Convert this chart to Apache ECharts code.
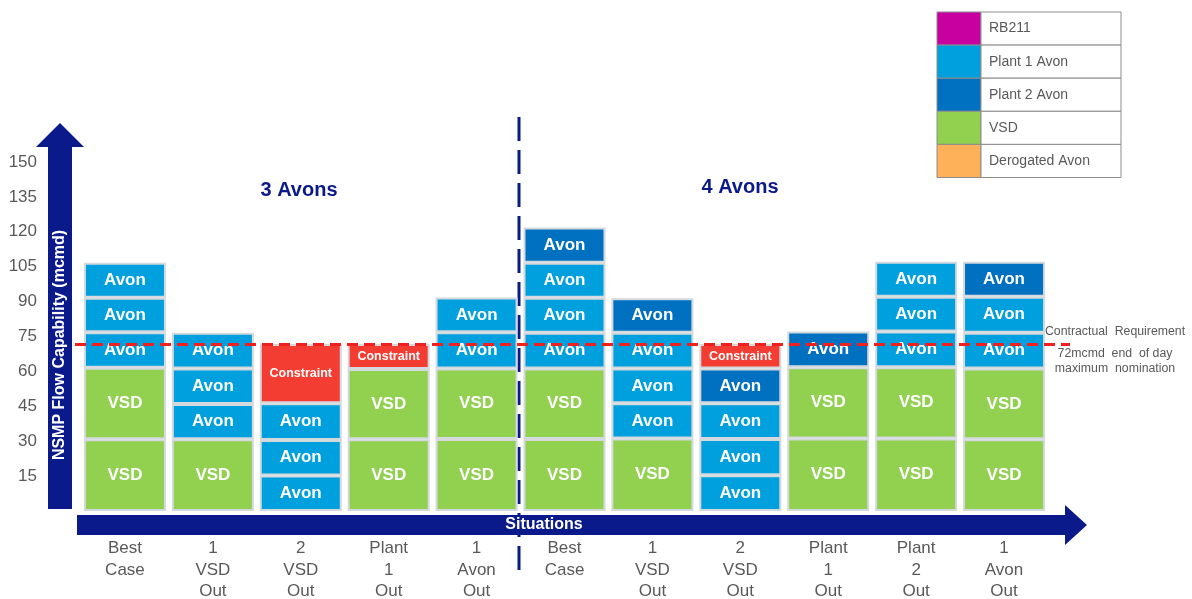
<!DOCTYPE html>
<html>
<head>
<meta charset="utf-8">
<script src="https://cdn.jsdelivr.net/npm/echarts@6/dist/echarts.min.js"></script>
<style>
html,body{margin:0;padding:0;background:#fff;}
#chart{width:1192px;height:599px;}
</style>
</head>
<body>
<div id="chart"></div>
<script>
// ---------- data ----------
const categories = ['Best\nCase','1\nVSD\nOut','2\nVSD\nOut','Plant\n1\nOut','1\nAvon\nOut',
                    'Best\nCase','1\nVSD\nOut','2\nVSD\nOut','Plant\n1\nOut','Plant\n2\nOut','1\nAvon\nOut'];
const yTicks = [15,30,45,60,75,90,105,120,135,150];
// stacked blocks, bottom (layer 1) to top (layer 6); types: V=VSD, P1=Plant 1 Avon, P2=Plant 2 Avon, C=Constraint
const layer1Values = [30.8, 30.8, 15.3, 30.8, 30.9, 30.9, 31.2, 15.4, 31.2, 31.2, 30.8];
const layer1Types  = ['V','V','P1','V','V','V','V','P1','V','V','V'];
const layer2Values = [30.8, 15.2, 15.2, 30.2, 30.4, 30.4, 15.1, 15.5, 30.6, 30.6, 30.5];
const layer2Types  = ['V','P1','P1','V','V','V','P1','P1','V','V','V'];
const layer3Values = [15.2, 15.3, 15.8, 10.8, 15.5, 15.3, 15.0, 15.4, 15.3, 15.3, 15.3];
const layer3Types  = ['P1','P1','P1','C','P1','P1','P1','P1','P2','P1','P1'];
const layer4Values = [14.9, 15.3, 25.5, null, 15.0, 15.1, 15.3, 15.0, null, 15.0, 15.5];
const layer4Types  = ['P1','P1','C',null,'P1','P1','P1','P2',null,'P1','P1'];
const layer5Values = [15.0, null, null, null, null, 15.0, 14.8, 10.5, null, 15.0, 15.0];
const layer5Types  = ['P1',null,null,null,null,'P1','P2','C',null,'P1','P2'];
const layer6Values = [null, null, null, null, null, 15.2, null, null, null, null, null];
const layer6Types  = [null,null,null,null,null,'P2',null,null,null,null,null];
const contractualRequirement = 72;
const sectionTitles = ['3 Avons','4 Avons'];
const legendNames  = ['RB211','Plant 1 Avon','Plant 2 Avon','VSD','Derogated Avon'];
const legendColors = ['#C8009F','#009FDD','#0070C0','#92D050','#FFB15A'];

// ---------- styling ----------
const NAVY = '#0B1A8A';
const GREY = '#595959';
const FONT = '"Liberation Sans", Arial, sans-serif';
const typeColor = {V:'#92D050', P1:'#009FDD', P2:'#0070C0', C:'#F43D32'};
const typeLabel = {V:'VSD', P1:'Avon', P2:'Avon', C:'Constraint'};

const layers = [
  [layer1Values, layer1Types],[layer2Values, layer2Types],[layer3Values, layer3Types],
  [layer4Values, layer4Types],[layer5Values, layer5Types],[layer6Values, layer6Types]
];

const series = layers.map(([vals, types], li) => ({
  type: 'bar',
  stack: 'total',
  barWidth: 82,
  name: 'layer' + (li + 1),
  data: vals.map((v, i) => v == null ? '-' : {
    value: v,
    itemStyle: {color: typeColor[types[i]], borderColor: '#D4D9DE', borderWidth: 2},
    label: {
      show: true, position: 'inside', formatter: typeLabel[types[i]],
      color: '#fff', fontWeight: 'bold', fontFamily: FONT,
      fontSize: types[i] === 'C' ? 12.5 : 17
    }
  }),
  emphasis: {disabled: true},
  animation: false
}));

const chart = echarts.init(document.getElementById('chart'), null, {renderer: 'canvas'});
chart.setOption({
  animation: false,
  backgroundColor: '#fff',
  grid: {left: 81, right: 144, top: 162, bottom: 88, containLabel: false, outerBoundsMode: 'none'},
  xAxis: {
    type: 'category', data: categories,
    axisLine: {show: false}, axisTick: {show: false},
    axisLabel: {interval: 0, color: GREY, fontSize: 17, lineHeight: 21.5, margin: 27, fontFamily: FONT}
  },
  yAxis: {
    type: 'value', min: 0, max: 150, interval: 15,
    axisLine: {show: false}, axisTick: {show: false}, splitLine: {show: false},
    axisLabel: {color: GREY, fontSize: 17, margin: 44, fontFamily: FONT,
      formatter: v => yTicks.indexOf(v) >= 0 ? String(v) : ''}
  },
  series: series
});

// ---------- decorations ----------
const yReq = chart.convertToPixel({yAxisIndex: 0}, contractualRequirement);
const g = [];
// divider (behind the axis arrow)
g.push({type: 'line', z: 1, shape: {x1: 519, y1: 117, x2: 519, y2: 574}, style: {stroke: NAVY, lineWidth: 3, lineDash: [24, 9]}});
// y arrow
g.push({type: 'polygon', z: 2, shape: {points: [[48,509],[48,147],[36,147],[60,123],[84,147],[72,147],[72,509]]}, style: {fill: NAVY}});
g.push({type: 'text', z: 5, x: 60, y: 345, rotation: Math.PI / 2,
  style: {text: 'NSMP Flow Capability (mcmd)', fill: '#fff', font: 'bold 16px ' + FONT, align: 'center', verticalAlign: 'middle'}});
// x arrow
g.push({type: 'polygon', z: 2, shape: {points: [[77,515],[1065,515],[1065,505],[1087,525],[1065,545],[1065,535],[77,535]]}, style: {fill: NAVY}});
g.push({type: 'text', z: 5, x: 544, y: 525,
  style: {text: 'Situations', fill: '#fff', font: 'bold 16px ' + FONT, align: 'center', verticalAlign: 'middle'}});
// section titles
g.push({type: 'text', z: 5, x: 299, y: 190, style: {text: sectionTitles[0], fill: NAVY, font: 'bold 20px ' + FONT, align: 'center', verticalAlign: 'middle'}});
g.push({type: 'text', z: 5, x: 740, y: 187, style: {text: sectionTitles[1], fill: NAVY, font: 'bold 20px ' + FONT, align: 'center', verticalAlign: 'middle'}});
// contractual requirement line
g.push({type: 'line', z: 10, shape: {x1: 75, y1: yReq + 1, x2: 1070, y2: yReq + 1}, style: {stroke: '#F0201E', lineWidth: 3, lineDash: [11, 6]}});
g.push({type: 'text', z: 5, x: 1115, y: 332, style: {text: 'Contractual  Requirement', fill: GREY, font: '12.3px ' + FONT, align: 'center', verticalAlign: 'middle'}});
g.push({type: 'text', z: 5, x: 1115, y: 354, style: {text: '72mcmd  end  of day', fill: GREY, font: '12.3px ' + FONT, align: 'center', verticalAlign: 'middle'}});
g.push({type: 'text', z: 5, x: 1115, y: 369, style: {text: 'maximum  nomination', fill: GREY, font: '12.3px ' + FONT, align: 'center', verticalAlign: 'middle'}});
// legend table
const lx = 937, ly = 12, lw = 184, lh = 33.1, sw = 44;
legendNames.forEach((name, i) => {
  const y = ly + i * lh;
  g.push({type: 'rect', z: 5, shape: {x: lx, y: y, width: sw, height: lh}, style: {fill: legendColors[i], stroke: '#8C8C8C', lineWidth: 1}});
  g.push({type: 'rect', z: 5, shape: {x: lx + sw, y: y, width: lw - sw, height: lh}, style: {fill: '#fff', stroke: '#8C8C8C', lineWidth: 1}});
  g.push({type: 'text', z: 6, x: lx + sw + 8, y: y + lh / 2, style: {text: name, fill: GREY, font: '14px ' + FONT, align: 'left', verticalAlign: 'middle'}});
});
chart.setOption({graphic: g});
</script>
</body>
</html>
